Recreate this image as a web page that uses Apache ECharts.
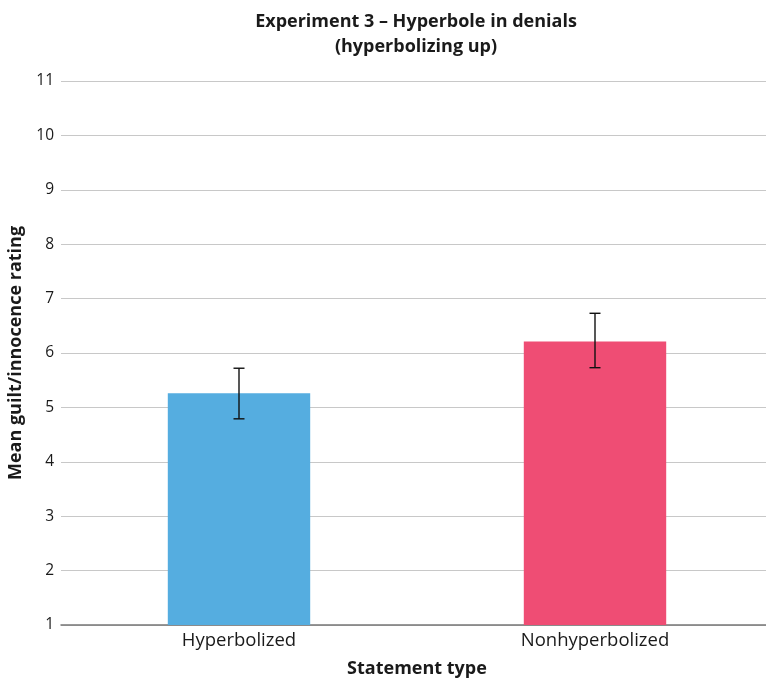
<!DOCTYPE html>
<html>
<head>
<meta charset="utf-8">
<script src="https://cdn.jsdelivr.net/npm/echarts@6/dist/echarts.min.js"></script>
<style>
  html, body { margin: 0; padding: 0; background: #fff; overflow: hidden; }
  #chart { width: 766px; height: 682px; }
</style>
</head>
<body>
<div id="chart"></div>
<script>
// Mean ratings with error bar bounds per statement type
const categories = ['Hyperbolized', 'Nonhyperbolized'];
const means = [5.26, 6.21];
const errLow = [4.79, 5.73];
const errHigh = [5.72, 6.73];
const barColors = ['#55ADE0', '#EF4D74'];
const yTicks = [1, 2, 3, 4, 5, 6, 7, 8, 9, 10, 11];

const FONT = '"Open Sans", "Noto Sans", sans-serif';
const chart = echarts.init(document.getElementById('chart'));

chart.setOption({
  animation: false,
  title: {
    text: 'Experiment 3 \u2013 Hyperbole in denials\n(hyperbolizing up)',
    left: 411,
    top: 4,
    textAlign: 'center',
    textStyle: { fontFamily: FONT, fontSize: 18, fontWeight: 'bold', color: '#1a1a1a', lineHeight: 25 }
  },
  // plot area runs slightly past the right edge of the canvas
  grid: { left: 61, width: 712, top: 81, height: 544, outerBoundsMode: 'none' },
  xAxis: {
    type: 'category',
    data: categories,
    name: 'Statement type',
    nameLocation: 'middle',
    nameGap: 35,
    nameTextStyle: { fontFamily: FONT, fontSize: 18, fontWeight: 'bold', color: '#1a1a1a' },
    axisLine: { lineStyle: { color: '#777', width: 1.5 } },
    axisTick: { show: false },
    axisLabel: { fontFamily: FONT, fontSize: 18.5, color: '#1a1a1a', margin: 6 }
  },
  yAxis: {
    type: 'value',
    min: yTicks[0],
    max: yTicks[yTicks.length - 1],
    interval: 1,
    name: 'Mean guilt/innocence rating',
    nameLocation: 'middle',
    nameGap: 33,
    nameTextStyle: { fontFamily: FONT, fontSize: 18, fontWeight: 'bold', color: '#1a1a1a' },
    axisLine: { show: false },
    axisTick: { show: false },
    axisLabel: { fontFamily: FONT, fontSize: 15.5, color: '#1a1a1a', margin: 7 },
    splitLine: { lineStyle: { color: '#c8c8c8', width: 1 } }
  },
  series: [
    {
      type: 'bar',
      barWidth: '40%',
      data: means.map((v, i) => ({ value: v, itemStyle: { color: barColors[i] } }))
    },
    {
      type: 'custom',
      z: 10,
      data: categories.map((c, i) => [i, errLow[i], errHigh[i]]),
      renderItem: function (params, api) {
        const x = api.coord([api.value(0), api.value(1)])[0];
        const yLo = api.coord([api.value(0), api.value(1)])[1];
        const yHi = api.coord([api.value(0), api.value(2)])[1];
        const half = 5.5;
        const style = { stroke: '#111', lineWidth: 1.4 };
        return {
          type: 'group',
          children: [
            { type: 'line', shape: { x1: x, y1: yHi, x2: x, y2: yLo }, style: style },
            { type: 'line', shape: { x1: x - half, y1: yHi, x2: x + half, y2: yHi }, style: style },
            { type: 'line', shape: { x1: x - half, y1: yLo, x2: x + half, y2: yLo }, style: style }
          ]
        };
      }
    }
  ]
});
</script>
</body>
</html>
